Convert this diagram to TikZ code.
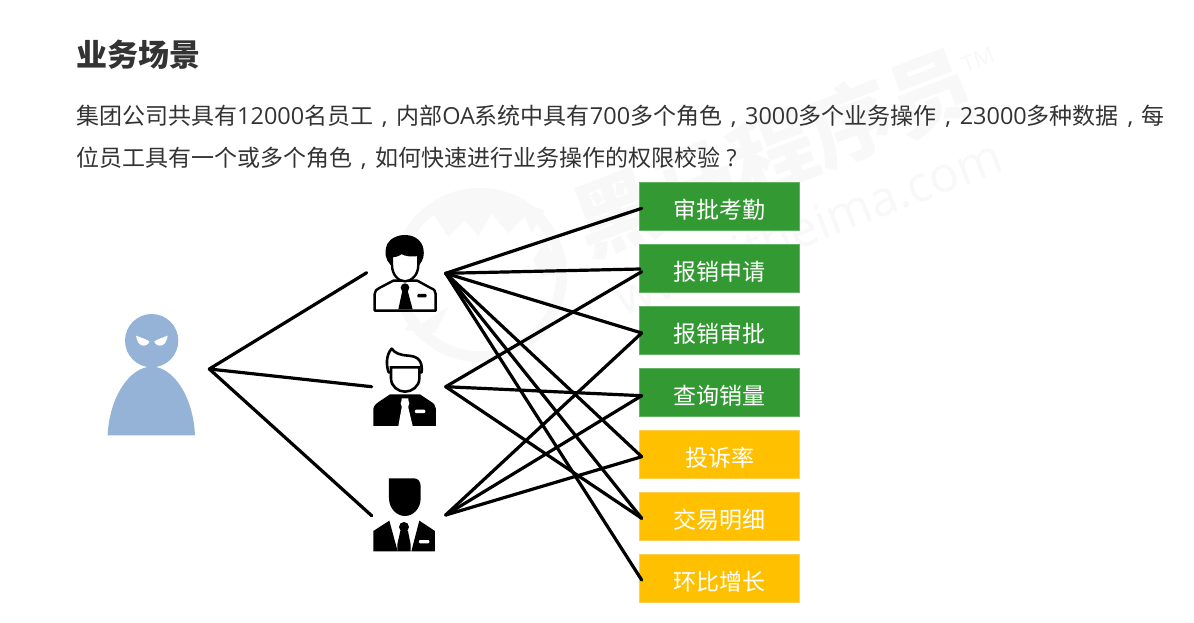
\documentclass[tikz,border=0pt]{standalone}
\usepackage{fontspec}
\setmainfont{Noto Sans CJK SC}
\newfontfamily\la[Scale=1.02]{Open Sans}
\newcommand{\cm}{\makebox[23pt]{\la ,}}
\newcommand{\qm}{\makebox[23pt]{\la ?}}
\definecolor{txt}{HTML}{333333}
\definecolor{grn}{HTML}{339933}
\definecolor{grnb}{HTML}{62B264}
\definecolor{ylw}{HTML}{FFC000}
\definecolor{ylwb}{HTML}{FFCF4D}
\definecolor{blu}{HTML}{95B3D7}
\definecolor{wm}{HTML}{F8F8F8}
\tikzset{
  body/.style={anchor=base west,inner sep=0pt,text=txt,font=\fontsize{23}{23}\selectfont},
  perm/.style={minimum width=160pt,minimum height=48.4pt,inner sep=0pt,text=white,
    text height=27.2pt,text depth=2.8pt,font=\fontsize{23}{23}\selectfont},
  gbox/.style={perm,fill=grn,draw=grnb,line width=.8pt},
  ybox/.style={perm,fill=ylw,draw=ylwb,line width=.8pt},
  link/.style={draw=black,line width=3.2pt,line cap=round,line join=round},
  wmark/.style={text=wm,inner sep=0pt,rotate=21},
  icon/.style={x=0.3333pt,y=-0.3333pt},
}
\begin{document}
\begin{tikzpicture}[x=1pt,y=-1pt]
\useasboundingbox (0,0) rectangle (1194,622);
\fill[white] (0,0) rectangle (1194,622);
% watermark
\node[wmark,font=\fontsize{84}{84}\selectfont\bfseries] (wm1) at (773,153) {黑马程序员};
\node[wmark,font=\la\fontsize{48}{48}\selectfont] (wm2) at (808,226) {www.itheima.com};
\node[wmark,font=\la\fontsize{22}{22}\selectfont] (wm3) at (978,60) {TM};
\begin{scope}[shift={(385,190)},icon]
  \draw[wm,line width=11pt] (285,255) circle[x radius=245,y radius=245];
  \fill[wm] (130,50) -- (190,140) -- (240,90) -- (280,140) -- (320,70) -- (370,130) -- (420,80) -- (440,130) -- (480,60) -- (300,20) -- cycle;
  \fill[wm] (480,150) -- (445,210) -- (470,260) -- (535,250) -- cycle;
  \fill[wm] (85,380) -- (130,440) -- (110,400) -- (190,350) -- (150,430) -- (60,420) -- cycle;
\end{scope}
% title and text
\node[anchor=base west,inner sep=0pt,text=txt,font=\fontsize{31}{31}\selectfont\bfseries] (title) at (76,66) {业务场景};
\node[body] (l1) at (76,124) {集团公司共具有{\la 12000}名员工\cm 内部{\la OA}系统中具有{\la 700}多个角色\cm{\la 3000}多个业务操作\cm{\la 23000}多种数据\cm 每};
\node[body] (l2) at (76,166) {位员工具有一个或多个角色\cm 如何快速进行业务操作的权限校验\qm};
% permission boxes
\node[gbox] (b1) at (719.5,206.5) {审批考勤};
\node[gbox] (b2) at (719.5,268.5) {报销申请};
\node[gbox] (b3) at (719.5,330.5) {报销审批};
\node[gbox] (b4) at (719.5,392.5) {查询销量};
\node[ybox] (b5) at (719.5,454.5) {投诉率};
\node[ybox] (b6) at (719.5,516.5) {交易明细};
\node[ybox] (b7) at (719.5,578.5) {环比增长};
% evil user
\begin{scope}[shift={(90,300)},icon]
  \fill[blu] (185,122) circle[x radius=80,y radius=80];
  \fill[blu] (53,406) .. controls (58,290) and (120,200) .. (185,200) .. controls (250,200) and (310,290) .. (315,406) -- cycle;
  \fill[white] (138,107) .. controls (150,112) and (170,118) .. (178,124) .. controls (176,134) and (165,139) .. (155,136) .. controls (145,132) and (140,120) .. (138,107) -- cycle;
  \fill[white] (233,107) .. controls (221,112) and (201,118) .. (193,124) .. controls (195,134) and (206,139) .. (216,136) .. controls (226,132) and (231,120) .. (233,107) -- cycle;
\end{scope}
% role 1
\begin{scope}[shift={(340,220)},icon]
  \draw[black,fill=white,line width=2.4pt,line join=round] (104,272) -- (104,222) .. controls (104,212) and (110,208) .. (118,204) -- (160,182) -- (232,182) -- (272,204) .. controls (282,208) and (287,212) .. (287,222) -- (287,272) -- cycle;
  \fill[black] (152,135) .. controls (136,120) and (132,95) .. (142,72) .. controls (150,55) and (175,44) .. (197,45) .. controls (225,46) and (245,62) .. (250,85) .. controls (254,105) and (250,120) .. (238,135) -- cycle;
  \draw[black,fill=white,line width=2.4pt] (156,108) .. controls (172,108) and (180,102) .. (184,98) .. controls (195,106) and (220,108) .. (235,104) -- (235,135) .. controls (235,165) and (214,184) .. (195,184) .. controls (176,184) and (156,165) .. (156,135) -- cycle;
  \fill[black] (195,203) circle[x radius=13,y radius=13];
  \fill[black] (187,212) -- (203,212) -- (218,268) -- (175,268) -- cycle;
  \fill[black,rounded corners=1pt] (232,222) rectangle (260,232);
\end{scope}
% role 2
\begin{scope}[shift={(340,335)},icon]
  \fill[black] (100,273) -- (100,222) .. controls (102,210) and (110,205) .. (120,198) -- (150,178) -- (240,178) -- (270,198) .. controls (282,205) and (287,212) .. (288,222) -- (288,273) -- cycle;
  \fill[white] (185,190) -- (205,190) -- (205,218) -- (218,273) -- (175,273) -- (185,218) -- cycle;
  \fill[white] (195,205) circle[x radius=13,y radius=13];
  \fill[white,rounded corners=1pt] (225,224) rectangle (256,234);
  \draw[black,fill=white,line width=2.6pt,line join=round] (146,112) .. controls (138,90) and (138,60) .. (155,41) .. controls (165,55) and (180,60) .. (205,62) .. controls (235,64) and (248,78) .. (245,112) -- cycle;
  \draw[black,fill=white,line width=2.6pt] (153,97) -- (238,97) -- (238,130) .. controls (238,155) and (215,170) .. (195,170) .. controls (175,170) and (153,155) .. (153,130) -- cycle;
\end{scope}
% role 3
\begin{scope}[shift={(340,465)},icon]
  \fill[black] (147,40) -- (222,40) .. controls (235,40) and (242,50) .. (242,65) -- (242,100) .. controls (242,130) and (220,153) .. (195,153) .. controls (170,153) and (147,130) .. (147,100) -- cycle;
  \fill[black] (100,259) -- (100,198) -- (148,167) -- (172,255) -- (172,259) -- cycle;
  \fill[black] (238,167) -- (285,198) -- (285,259) -- (214,259) -- cycle;
  \fill[black] (192,186) circle[x radius=15,y radius=15];
  \fill[black] (181,198) -- (204,198) -- (212,238) -- (212,259) -- (172,259) -- (172,238) -- cycle;
  \fill[white,rounded corners=1pt] (237,225) rectangle (268,235);
\end{scope}
% connector anchors
\coordinate (u) at (209.3,369);
\coordinate (r1in) at (366.7,272.7);
\coordinate (r2in) at (371.7,386.7);
\coordinate (r3in) at (371.7,515.7);
\coordinate (r1) at (445.7,273.3);
\coordinate (r2) at (445.7,386.7);
\coordinate (r3) at (445.7,515);
\coordinate (e1) at (641.7,208.3);
\coordinate (e2a) at (640,269);
\coordinate (e2b) at (641.7,271.7);
\coordinate (e3) at (641.7,333);
\coordinate (e4) at (641.7,395.7);
\coordinate (e5) at (641.7,456.7);
\coordinate (e6) at (641.7,518.3);
\coordinate (e7) at (641.7,580);
\draw[link] (r1in) -- (u) -- (r2in);
\draw[link] (u) -- (r3in);
\foreach \e in {e1,e2a,e3,e5,e6,e7} \draw[link] (r1) -- (\e);
\foreach \e in {e2b,e4,e6} \draw[link] (r2) -- (\e);
\foreach \e in {e3,e4,e5} \draw[link] (r3) -- (\e);
\end{tikzpicture}
\end{document}
